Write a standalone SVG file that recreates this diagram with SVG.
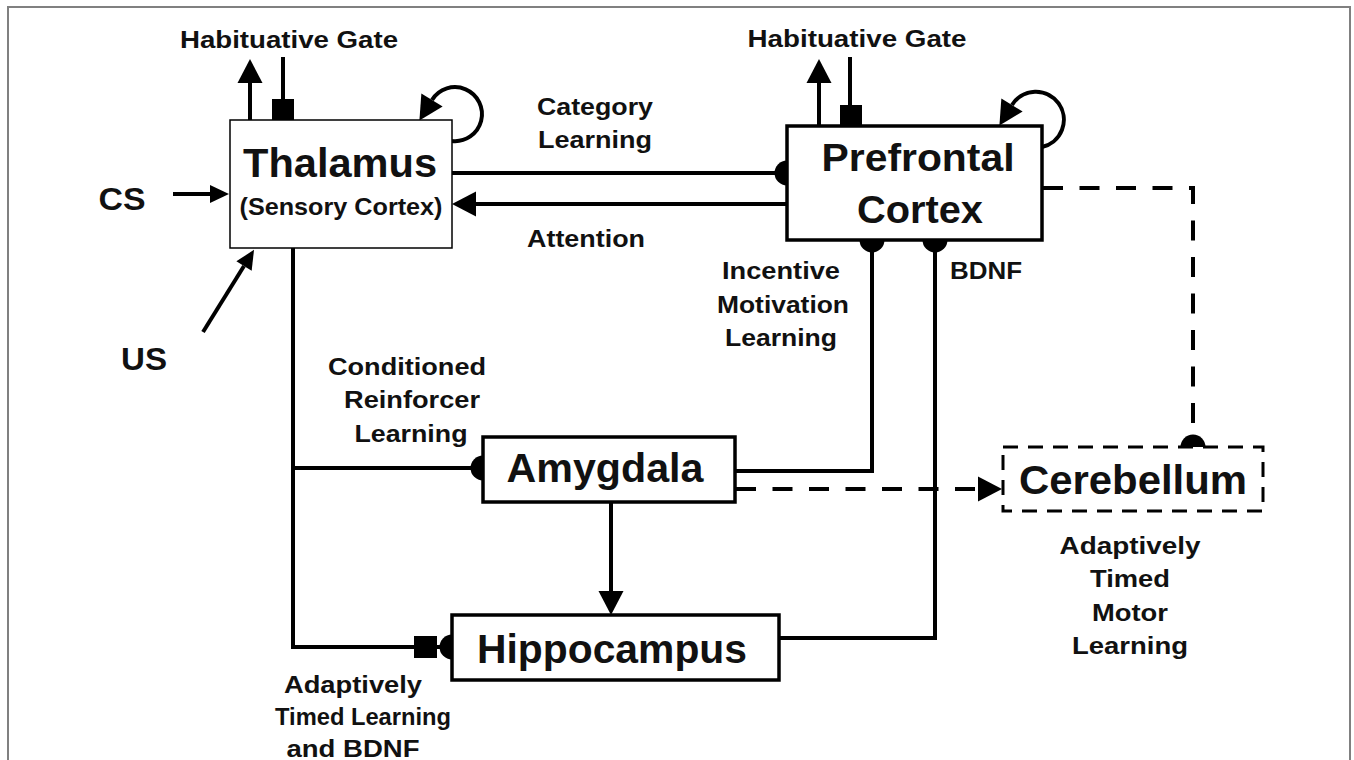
<svg xmlns="http://www.w3.org/2000/svg" width="1354" height="760" viewBox="0 0 1354 760">
<style>
text{font-family:"Liberation Sans",Arial,sans-serif;font-weight:bold;fill:#111;text-anchor:middle}
.s{font-size:24px}
.b{font-size:40px}
.m{font-size:38px}
.l{font-size:32px}
.box{fill:#fff;stroke:#000;stroke-width:3.5}
.ln{fill:none;stroke:#000;stroke-width:4}
.dash{stroke-dasharray:20 16.5}
</style>
<defs>
<marker id="arr" markerUnits="userSpaceOnUse" orient="auto" refX="0" refY="0" overflow="visible"><path d="M0,-12.5 L24,0 L0,12.5 Z" fill="#000"/></marker>
<marker id="arrS" markerUnits="userSpaceOnUse" orient="auto" refX="0" refY="0" overflow="visible"><path d="M0,-9 L19,0 L0,9 Z" fill="#000"/></marker>
<marker id="cup" markerUnits="userSpaceOnUse" orient="auto" refX="0" refY="0" overflow="visible"><path d="M0,-12.5 A12.5,12.5 0 0,0 0,12.5 Z" fill="#000"/></marker>
</defs>
<rect x="8" y="7" width="1342" height="800" fill="#fff" stroke="#808080" stroke-width="2"/>

<g id="connectors">
<path class="ln" d="M250,120 V83" marker-end="url(#arr)"/>
<path class="ln" d="M283,57 V100"/>
<rect x="272" y="99" width="22" height="21" fill="#000"/>
<path class="ln" d="M819,126 V83" marker-end="url(#arr)"/>
<path class="ln" d="M850,57 V106"/>
<rect x="840" y="105" width="22" height="21" fill="#000"/>
<path class="ln" d="M452,141 A27,27 0 1 0 432,100" marker-end="url(#arr)"/>
<path class="ln" d="M1042,147 A28,28 0 1 0 1012,105" marker-end="url(#arr)"/>
<path class="ln" d="M452,173 H787" marker-end="url(#cup)"/>
<path class="ln" d="M787,204 H476" marker-end="url(#arr)"/>
<path class="ln" stroke-width="3" d="M173,194 H210" marker-end="url(#arrS)"/>
<path class="ln" stroke-width="3" d="M203,332 L244,266" marker-end="url(#arrS)"/>
<path class="ln" d="M735,471 H872 V240" marker-end="url(#cup)"/>
<path class="ln" d="M779,638 H935 V240" marker-end="url(#cup)"/>
<path class="ln" d="M293,248 V647 H452" marker-end="url(#cup)"/>
<rect x="414" y="636" width="23" height="22" fill="#000"/>
<path class="ln" d="M293,468 H483" marker-end="url(#cup)"/>
<path class="ln" d="M611,502 V591" marker-end="url(#arr)"/>
<path class="ln dash" d="M1043,188 H1193 V447" marker-end="url(#cup)"/>
<path class="ln dash" d="M736,489 H978" marker-end="url(#arr)"/>
</g>

<g id="thalamus">
<rect x="230" y="120" width="222" height="128" fill="#fff" stroke="#000" stroke-width="1.5"/>
<text class="b" x="340" y="177" textLength="194" lengthAdjust="spacingAndGlyphs">Thalamus</text>
<text class="s" x="341" y="215" textLength="203" lengthAdjust="spacingAndGlyphs">(Sensory Cortex)</text>
</g>
<g id="prefrontal">
<rect class="box" x="787" y="126" width="255" height="114"/>
<text class="m" x="918" y="171" textLength="193" lengthAdjust="spacingAndGlyphs">Prefrontal</text>
<text class="m" x="920" y="223" textLength="126" lengthAdjust="spacingAndGlyphs">Cortex</text>
</g>
<g id="amygdala">
<rect class="box" x="483" y="437" width="252" height="65"/>
<text class="b" x="605" y="482" textLength="197" lengthAdjust="spacingAndGlyphs">Amygdala</text>
</g>
<g id="hippocampus">
<rect class="box" x="452" y="615" width="327" height="65"/>
<text class="b" x="612" y="663" textLength="270" lengthAdjust="spacingAndGlyphs">Hippocampus</text>
</g>
<g id="cerebellum">
<rect x="1003" y="447" width="260" height="64" fill="#fff" stroke="#000" stroke-width="3" stroke-dasharray="15 10"/>
<text class="b" x="1133" y="494" textLength="228" lengthAdjust="spacingAndGlyphs">Cerebellum</text>
</g>

<g id="labels">
<text class="s" x="289" y="48" textLength="218" lengthAdjust="spacingAndGlyphs">Habituative Gate</text>
<text class="s" x="857" y="47" textLength="219" lengthAdjust="spacingAndGlyphs">Habituative Gate</text>
<text class="s" x="595" y="115" textLength="116" lengthAdjust="spacingAndGlyphs">Category</text>
<text class="s" x="595" y="148" textLength="114" lengthAdjust="spacingAndGlyphs">Learning</text>
<text class="s" x="586" y="247" textLength="118" lengthAdjust="spacingAndGlyphs">Attention</text>
<text class="l" x="122" y="210" textLength="47" lengthAdjust="spacingAndGlyphs">CS</text>
<text class="l" x="144" y="370" textLength="46" lengthAdjust="spacingAndGlyphs">US</text>
<text class="s" x="781" y="279" textLength="118" lengthAdjust="spacingAndGlyphs">Incentive</text>
<text class="s" x="783" y="313" textLength="132" lengthAdjust="spacingAndGlyphs">Motivation</text>
<text class="s" x="781" y="346" textLength="112" lengthAdjust="spacingAndGlyphs">Learning</text>
<text class="s" x="986" y="279" textLength="72" lengthAdjust="spacingAndGlyphs">BDNF</text>
<text class="s" x="407" y="375" textLength="158" lengthAdjust="spacingAndGlyphs">Conditioned</text>
<text class="s" x="412" y="408" textLength="136" lengthAdjust="spacingAndGlyphs">Reinforcer</text>
<text class="s" x="411" y="442" textLength="113" lengthAdjust="spacingAndGlyphs">Learning</text>
<text class="s" x="1130" y="554" textLength="141" lengthAdjust="spacingAndGlyphs">Adaptively</text>
<text class="s" x="1130" y="587" textLength="80" lengthAdjust="spacingAndGlyphs">Timed</text>
<text class="s" x="1130" y="621" textLength="76" lengthAdjust="spacingAndGlyphs">Motor</text>
<text class="s" x="1130" y="654" textLength="116" lengthAdjust="spacingAndGlyphs">Learning</text>
<text class="s" x="353" y="693" textLength="138" lengthAdjust="spacingAndGlyphs">Adaptively</text>
<text class="s" x="363" y="725" textLength="176" lengthAdjust="spacingAndGlyphs">Timed Learning</text>
<text class="s" x="353" y="757" textLength="133" lengthAdjust="spacingAndGlyphs">and BDNF</text>
</g>
</svg>
